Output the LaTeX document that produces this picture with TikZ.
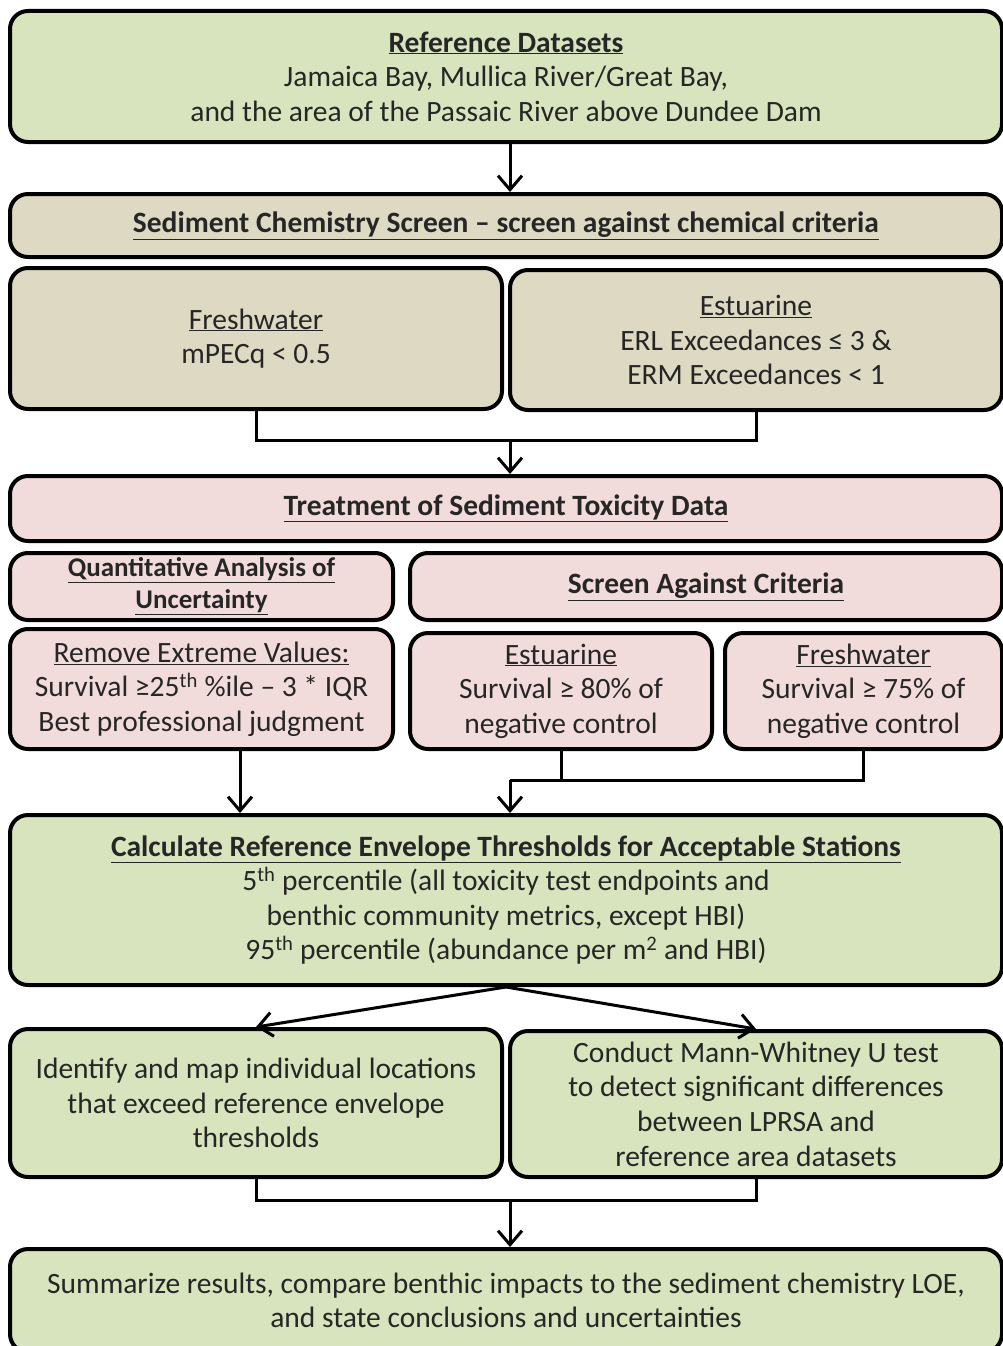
\documentclass[tikz,border=0pt]{standalone}
\usepackage{fontspec}
\setmainfont{Carlito}
\usetikzlibrary{arrows.meta}
\definecolor{boxgreen}{HTML}{D7E4BD}
\definecolor{boxtan}{HTML}{DDD9C3}
\definecolor{boxpink}{HTML}{F2DCDB}
\newcommand{\ul}[1]{\underline{#1}}
\tikzset{
  box/.style={draw=black, line width=4pt, rounded corners=18pt, align=center, inner sep=0pt,
    font=\fontsize{29.5}{34.6}\selectfont, text=black!85},
  gbox/.style={box, fill=boxgreen},
  tbox/.style={box, fill=boxtan},
  pbox/.style={box, fill=boxpink},
  conn/.style={draw=black, line width=3pt},
  arr/.style={conn, -{Straight Barb[length=14pt,width=24pt,line width=3pt]}},
}
\begin{document}
\begin{tikzpicture}[x=1pt,y=-1pt]
\useasboundingbox (0,0) rectangle (1003,1346);
\node[gbox, minimum width=992pt, minimum height=131pt] (ref) at (506,76.5)
  {\ul{\textbf{Reference Datasets}}\\Jamaica Bay, Mullica River/Great Bay,\\and the area of the Passaic River above Dundee Dam};
\node[tbox, minimum width=992pt, minimum height=63pt] (sed) at (506,225.5)
  {\ul{\textbf{Sediment Chemistry Screen – screen against chemical criteria}}};
\node[tbox, minimum width=492pt, minimum height=141pt] (f1) at (256,338.5)
  {\ul{Freshwater}\\mPECq < 0.5};
\node[tbox, minimum width=492pt, minimum height=140pt] (e1) at (756,340)
  {\ul{Estuarine}\\ERL Exceedances ≤ 3 \&\\ERM Exceedances < 1};
\node[pbox, minimum width=992pt, minimum height=65pt] (treat) at (506,508.5)
  {\ul{\textbf{Treatment of Sediment Toxicity Data}}};
\node[pbox, minimum width=383pt, minimum height=67pt, font=\fontsize{27}{32}\selectfont] (quant) at (201.5,586.5)
  {\ul{\textbf{Quantitative Analysis of}}\\\ul{\textbf{Uncertainty}}};
\node[pbox, minimum width=592pt, minimum height=67pt] (screen) at (706,586.5)
  {\ul{\textbf{Screen Against Criteria}}};
\node[pbox, minimum width=383pt, minimum height=120pt] (remove) at (201.5,689)
  {\ul{Remove Extreme Values:}\\Survival ≥25\textsuperscript{th} \%ile – 3 * IQR\\Best professional judgment};
\node[pbox, minimum width=302pt, minimum height=116pt] (e2) at (561,691)
  {\ul{Estuarine}\\Survival ≥ 80\% of\\negative control};
\node[pbox, minimum width=277pt, minimum height=116pt] (f2) at (863.5,691)
  {\ul{Freshwater}\\Survival ≥ 75\% of\\negative control};
\node[gbox, minimum width=992pt, minimum height=170pt] (calc) at (506,900)
  {\ul{\textbf{Calculate Reference Envelope Thresholds for Acceptable Stations}}\\5\textsuperscript{th} percentile (all toxicity test endpoints and\\benthic community metrics, except HBI)\\95\textsuperscript{th} percentile (abundance per m\textsuperscript{2} and HBI)};
\node[gbox, minimum width=492pt, minimum height=148pt] (ident) at (256,1103)
  {Identify and map individual locations\\that exceed reference envelope\\thresholds};
\node[gbox, minimum width=492pt, minimum height=146pt] (cond) at (756,1104)
  {Conduct Mann-Whitney U test\\to detect significant differences\\between LPRSA and\\reference area datasets};
\node[gbox, minimum width=992pt, minimum height=103pt] (summ) at (506,1300.5)
  {Summarize results, compare benthic impacts to the sediment chemistry LOE,\\and state conclusions and uncertainties};
% connectors
\coordinate (j1) at (510,440);
\coordinate (j2) at (510,780);
\coordinate (j3) at (510,1200);
\draw[arr] (ref.south -| j1) -- (sed.north -| j1);
\draw[conn] (f1.south) |- (j1) -| (e1.south);
\draw[arr] (j1) -- (treat.north -| j1);
\draw[arr] (remove.south -| 240,0) -- (calc.north -| 240,0);
\draw[conn] (e2.south) |- (j2);
\draw[conn] (f2.south) |- (j2);
\draw[arr] (j2) -- (calc.north -| j2);
\draw[arr] (calc.south) -- (ident.north);
\draw[arr] (calc.south) -- (cond.north);
\draw[conn] (ident.south) |- (j3) -| (cond.south);
\draw[arr] (j3) -- (summ.north -| j3);
\end{tikzpicture}
\end{document}
